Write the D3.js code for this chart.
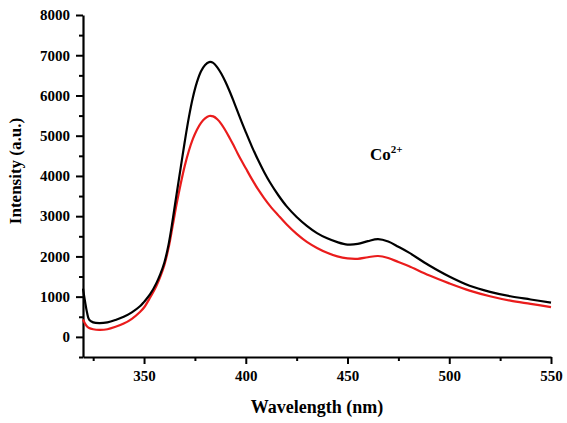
<!DOCTYPE html>
<html>
<head>
<meta charset="utf-8">
<script src="https://cdn.jsdelivr.net/npm/d3@7"></script>
<style>
  body { margin: 0; background: #fff; }
  svg text { font-family: "Liberation Serif", "Times New Roman", serif; font-weight: bold; }
</style>
</head>
<body>
<div id="chart"></div>
<script>
// wavelength (nm)
var wavelength = [320, 321, 322, 323, 325, 328, 332, 336, 340, 344, 348, 350, 353, 356, 358, 360, 362, 364, 366, 368,
  370, 372, 374, 376, 378, 380, 382, 384, 386, 388, 390, 392, 394, 396, 398, 400, 403, 406, 409, 412,
  416, 420, 425, 430, 435, 440, 445, 450, 455, 460, 465, 470, 475, 480, 490, 500, 510, 520, 530, 540, 550];
// black spectrum
var blackCurve = [1200, 880, 600, 430, 360, 340, 360, 420, 500, 610, 760, 870, 1060, 1330, 1560, 1850, 2280, 2880, 3550, 4200,
  4850, 5450, 5950, 6330, 6600, 6760, 6830, 6810, 6700, 6540, 6340, 6110, 5860, 5600, 5340, 5090, 4730, 4400, 4100, 3830,
  3520, 3250, 2980, 2760, 2580, 2450, 2355, 2295, 2310, 2380, 2430, 2370, 2240, 2100, 1780, 1500, 1270, 1120, 1010, 930, 850];
// red spectrum
var redCurve = [430, 330, 260, 220, 190, 175, 190, 250, 330, 450, 620, 730, 980, 1260, 1500, 1790, 2200, 2740, 3300, 3800,
  4250, 4620, 4920, 5150, 5320, 5430, 5490, 5480, 5410, 5290, 5130, 4950, 4760, 4560, 4370, 4190, 3920, 3670, 3450, 3250,
  3020, 2800, 2560, 2360, 2210, 2090, 2000, 1950, 1940, 1980, 2010, 1960, 1860, 1760, 1530, 1330, 1150, 1010, 900, 820, 740];

var xTicks = [350, 400, 450, 500, 550];
var yTicks = [0, 1000, 2000, 3000, 4000, 5000, 6000, 7000, 8000];

var width = 567, height = 423;

var svg = d3.select("#chart").append("svg")
  .attr("width", width)
  .attr("height", height);

var x = d3.scaleLinear().domain([320, 550]).range([83, 551]);
var y = d3.scaleLinear().domain([-500, 8000]).range([357, 15]);

// minor ticks first
svg.append("g")
  .attr("transform", "translate(0,357)")
  .call(d3.axisBottom(x).tickValues(d3.range(325, 551, 50)).tickSize(4).tickFormat(""))
  .call(g => g.select(".domain").remove());
svg.append("g")
  .attr("transform", "translate(83,0)")
  .call(d3.axisLeft(y).tickValues(d3.range(-500, 8000, 1000)).tickSize(4).tickFormat(""))
  .call(g => g.select(".domain").remove());

svg.append("g")
  .attr("transform", "translate(0,357)")
  .call(d3.axisBottom(x).tickValues(xTicks).tickFormat(d3.format("d")).tickSize(7).tickSizeOuter(0).tickPadding(6));
svg.append("g")
  .attr("transform", "translate(83,0)")
  .call(d3.axisLeft(y).tickValues(yTicks).tickFormat(d3.format("d")).tickSize(7).tickSizeOuter(0).tickPadding(6));

svg.selectAll(".tick line").attr("stroke", "#000").attr("stroke-width", 2);
svg.selectAll(".domain").attr("stroke", "#000").attr("stroke-width", 2.2);
svg.selectAll(".tick text")
  .attr("fill", "#000")
  .style("font-size", "15px")
  .style("font-family", "'Liberation Serif', serif")
  .style("font-weight", "bold");

var line = d3.line()
  .x(function (d) { return x(d[0]); })
  .y(function (d) { return y(d[1]); })
  .curve(d3.curveCatmullRom.alpha(0.5));

svg.append("path")
  .datum(wavelength.map(function (w, i) { return [w, redCurve[i]]; }))
  .attr("fill", "none")
  .attr("stroke", "#ea1c1c")
  .attr("stroke-width", 2.2)
  .attr("d", line);

svg.append("path")
  .datum(wavelength.map(function (w, i) { return [w, blackCurve[i]]; }))
  .attr("fill", "none")
  .attr("stroke", "#000")
  .attr("stroke-width", 2.2)
  .attr("d", line);

// axis titles
svg.append("text")
  .attr("x", 317)
  .attr("y", 413)
  .attr("text-anchor", "middle")
  .style("font-size", "18px")
  .text("Wavelength (nm)");

svg.append("text")
  .attr("transform", "translate(21,171) rotate(-90)")
  .attr("text-anchor", "middle")
  .style("font-size", "17px")
  .text("Intensity (a.u.)");

var co = svg.append("text")
  .attr("x", 370)
  .attr("y", 160)
  .style("font-size", "17px");
co.append("tspan").text("Co");
co.append("tspan").attr("dy", -7).style("font-size", "11px").text("2+");
</script>
</body>
</html>
